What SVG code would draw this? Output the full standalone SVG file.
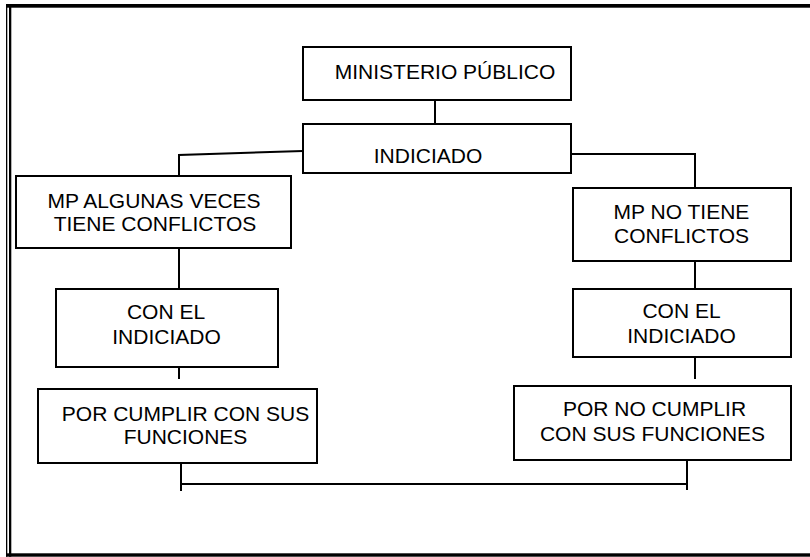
<svg xmlns="http://www.w3.org/2000/svg" width="810" height="557" viewBox="0 0 810 557">
<style>
.box{fill:#fff;stroke:#000;stroke-width:2}
.ln{fill:none;stroke:#000;stroke-width:2}
text{font-family:"Liberation Sans",Arial,sans-serif;font-size:21px;fill:#000;text-anchor:middle}
</style>
<rect width="810" height="557" fill="#fff"/>
<g id="frame" fill="#000">
<rect x="6" y="4" width="804" height="3.7"/>
<rect x="6" y="4" width="1.3" height="552.7"/>
<rect x="9" y="4" width="2.3" height="552.7"/>
<rect x="6" y="553.3" width="804" height="3.4"/>
</g>
<g id="connectors" class="ln">
<line x1="435" y1="100" x2="435" y2="124"/>
<polyline points="179,176 179,155 303,151"/>
<polyline points="571,154 695,154 695,188"/>
<line x1="179" y1="248" x2="179" y2="289"/>
<line x1="179" y1="367" x2="179" y2="379"/>
<line x1="695" y1="261" x2="695" y2="289"/>
<line x1="695" y1="357" x2="695" y2="379"/>
<polyline points="181,460 181,491"/>
<polyline points="687,460 687,490"/>
<line x1="181" y1="484" x2="687" y2="484"/>
</g>
<g id="n1"><rect class="box" x="303" y="47" width="268" height="53"/><text x="445" y="79">MINISTERIO PÚBLICO</text></g>
<g id="n2"><rect class="box" x="303" y="124" width="268" height="49"/><text x="428" y="163">INDICIADO</text></g>
<g id="n3"><rect class="box" x="16" y="176" width="275" height="72"/><text x="154" y="208">MP ALGUNAS VECES</text><text x="155" y="231">TIENE CONFLICTOS</text></g>
<g id="n4"><rect class="box" x="573" y="188" width="218" height="73"/><text x="681.5" y="219">MP NO TIENE</text><text x="681.5" y="243">CONFLICTOS</text></g>
<g id="n5"><rect class="box" x="56" y="289" width="222" height="78"/><text x="166" y="319">CON EL</text><text x="166.5" y="344">INDICIADO</text></g>
<g id="n6"><rect class="box" x="573" y="289" width="218" height="68"/><text x="681.5" y="318">CON EL</text><text x="681.5" y="343">INDICIADO</text></g>
<g id="n7"><rect class="box" x="38" y="389" width="279" height="74"/><text x="185.5" y="421">POR CUMPLIR CON SUS</text><text x="185.5" y="444">FUNCIONES</text></g>
<g id="n8"><rect class="box" x="514" y="386" width="277" height="74"/><text x="654.5" y="416">POR NO CUMPLIR</text><text x="652.5" y="441">CON SUS FUNCIONES</text></g>
</svg>
